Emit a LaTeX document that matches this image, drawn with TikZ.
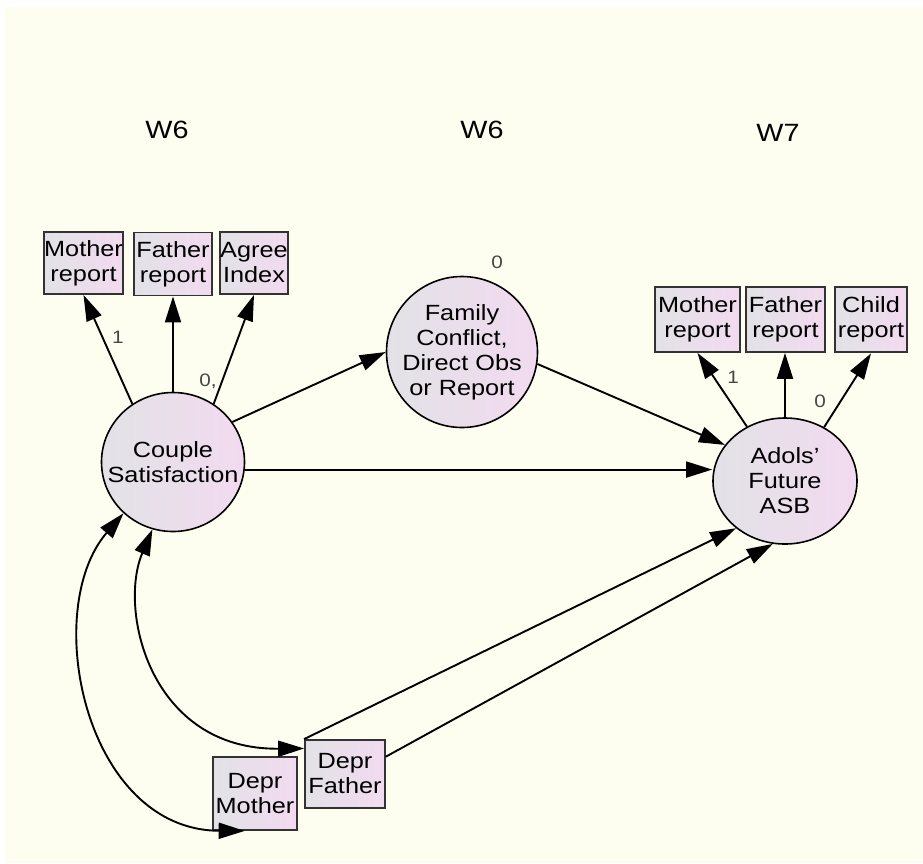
\documentclass[tikz,border=0pt]{standalone}
\usepackage{fontspec}
\setmainfont{Liberation Sans}[FakeStretch=1.15]
\usepackage{tikz}
\usetikzlibrary{arrows.meta,calc,shapes.geometric}
\definecolor{BgCream}{RGB}{254,254,240}
\definecolor{FillGray}{RGB}{226,226,230}
\definecolor{FillPink}{RGB}{242,218,240}
\definecolor{CoefGray}{RGB}{70,70,70}
\tikzset{
  obsbox/.style={rectangle, draw=black!80, line width=1.8pt, left color=FillGray, right color=FillPink,
    align=center, inner sep=0pt, font=\fontsize{22}{25}\selectfont},
  latent/.style={ellipse, draw, line width=1.6pt, left color=FillGray, right color=FillPink, inner sep=0pt},
  latentname/.style={align=center, font=\fontsize{22}{25}\selectfont},
  regpath/.style={-{Triangle[length=26pt,width=16pt]}, line width=1.9pt},
  covpath/.style={{Triangle[length=26pt,width=16pt]}-{Triangle[length=26pt,width=16pt]}, line width=1.9pt},
  coef/.style={text=CoefGray, font=\fontsize{18}{18}\selectfont},
  wavelabel/.style={font=\fontsize{25}{25}\selectfont}
}

\begin{document}
\begin{tikzpicture}[x=1pt,y=-1pt]
    %%background
    \useasboundingbox[fill=white] (0,0) rectangle (923,863);
    \fill[BgCream] (5,7) rectangle (923,863);
    \node[wavelabel] (wleft) at (167,130) {W6};
    \node[wavelabel] (wmid) at (482,130) {W6};
    \node[wavelabel] (wright) at (778,133) {W7};

    %%latent variables
    \node[latent, minimum width=143pt, minimum height=139pt, label={[latentname]center:Couple\\Satisfaction}] (couple) at (173,462) {};
    \node[latent, minimum width=151pt, minimum height=151pt, label={[latentname]center:Family\\Conflict,\\Direct Obs\\or Report}] (family) at (462,352) {};
    \node[latent, minimum width=144pt, minimum height=126pt, label={[latentname]center:Adols'\\Future\\ASB}] (adols) at (785,481) {};

    %%indicators
    \node[obsbox, minimum width=71pt, minimum height=62pt] (lmother) at (83.5,263) {Mother\\report};
    \node[obsbox, minimum width=78pt, minimum height=63pt] (lfather) at (173,264) {Father\\report};
    \node[obsbox, minimum width=68pt, minimum height=62pt] (lagree) at (254,263) {Agree\\Index};
    \node[obsbox, minimum width=85pt, minimum height=65pt] (rmother) at (697.5,319.5) {Mother\\report};
    \node[obsbox, minimum width=79pt, minimum height=65pt] (rfather) at (785.5,319.5) {Father\\report};
    \node[obsbox, line width=2.8pt, minimum width=72pt, minimum height=65pt] (rchild) at (871,319.5) {Child\\report};
    \node[obsbox, minimum width=80pt, minimum height=68pt] (dfather) at (345,774) {Depr\\Father};
    \node[obsbox, minimum width=84pt, minimum height=73pt] (dmother) at (255,793.5) {Depr\\Mother};

    %%paths
    \draw[regpath] (couple.125) -- (lmother.south);
    \draw[regpath] (couple.north) -- (couple.north |- lfather.south);
    \draw[regpath] (couple.55) -- (lagree.south);
    \draw[regpath] (couple.34) -- (family.west);
    \draw[regpath] (couple.-6) -- (couple.-6 -| adols.west);
    \draw[regpath] (family.-9) -- (adols.149);
    \draw[regpath] (adols.125) -- (rmother.south);
    \draw[regpath] (adols.north) -- (adols.north |- rfather.south);
    \draw[regpath] (adols.54) -- (rchild.south);
    \draw[regpath] (dfather.north west) -- (adols.224);
    \draw[regpath] (dfather.23) -- (adols.259);
    \draw[covpath] (couple.226) .. controls (40,610) and (85,830) .. ($(dmother.south west)!0.38!(dmother.south east)$);
    \draw[covpath] (couple.253) .. controls (118,610) and (150,750) .. (dfather.148);

    %%coefficients
    \node[coef] (cmother) at (118,337) {1};
    \node[coef] (cagree) at (208,381) {0,};
    \node[coef] (cfamily) at (497,262) {0};
    \node[coef] (radmother) at (733,377) {1};
    \node[coef] (radchild) at (820,401) {0};
\end{tikzpicture}
\end{document}
